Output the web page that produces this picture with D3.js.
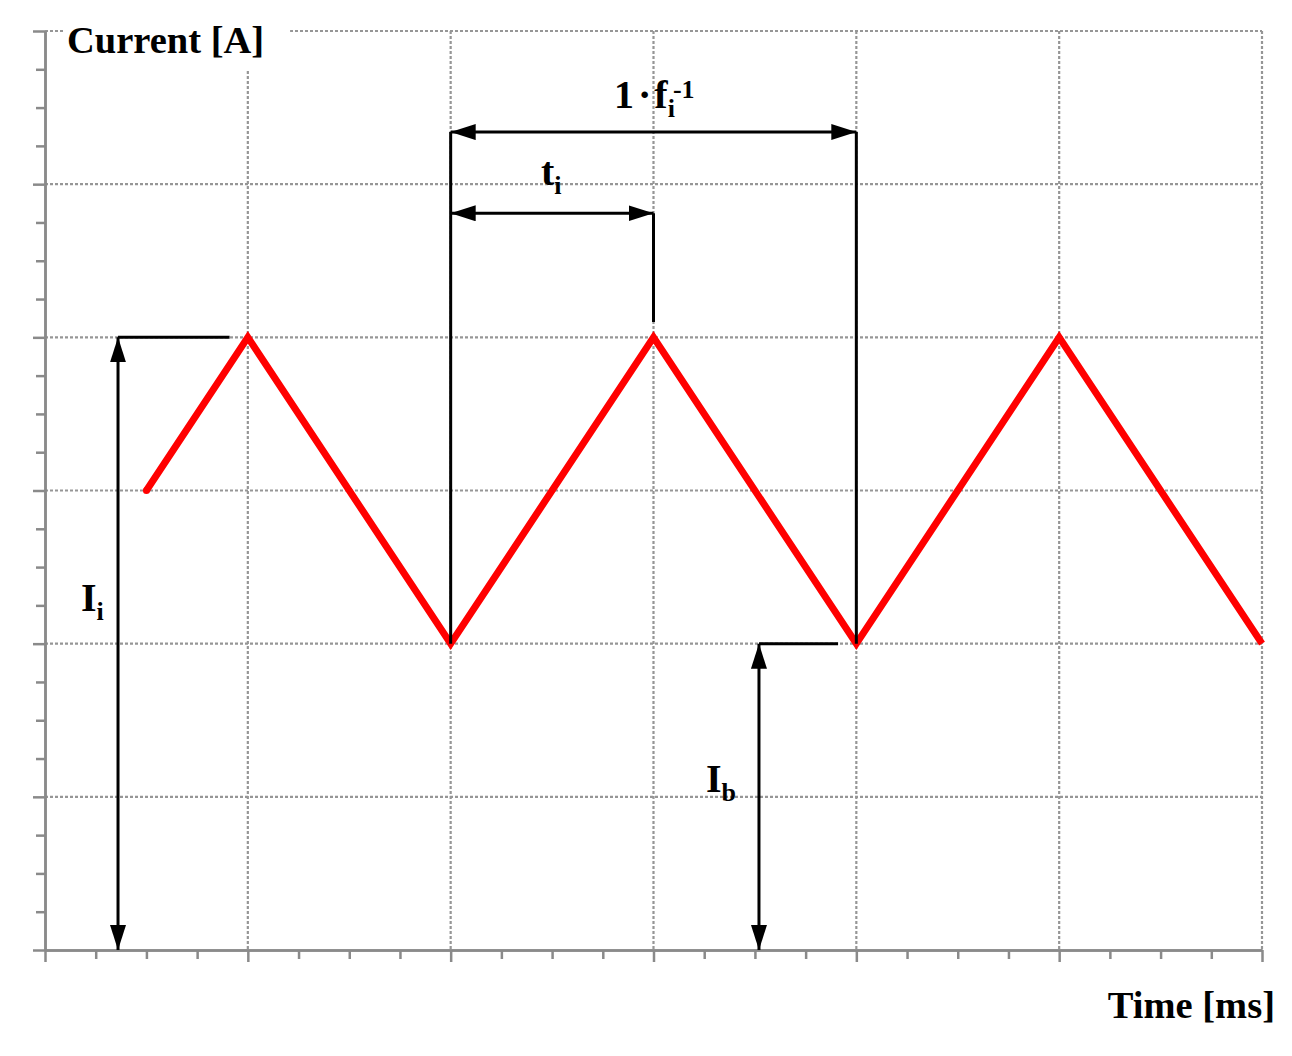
<!DOCTYPE html>
<html><head><meta charset="utf-8">
<script src="https://cdn.jsdelivr.net/npm/d3@7"></script>
<style>
html,body{margin:0;padding:0;background:#fff;}
svg{display:block;}
text{font-family:"Liberation Serif","Times New Roman",serif;font-weight:bold;fill:#000;}
</style></head>
<body>
<script>
// ---- data (grid units) ----
const gridX = [0, 1, 2, 3, 4, 5, 6];
const gridY = [0, 1, 2, 3, 4, 5, 6];
const timeT = [0.5, 1, 2, 3, 4, 5, 6];
const currentI = [3, 4, 2, 4, 2, 4, 2];
const yAxisLabel = "Current [A]";
const xAxisLabel = "Time [ms]";
// annotation dimensions (grid units)
const periodStart = 2, periodPeak = 3, periodEnd = 4;
const periodLevel = 5.34, onTimeLevel = 4.81, onTimeTickLow = 4.1;
const peakCurrent = 4, baseCurrent = 2;
const iiArrowX = 0.36, iiLeaderEnd = 0.91;
const ibArrowX = 3.52, ibLeaderEnd = 3.91;

const W = 1292, H = 1056;
const svg = d3.select("body").append("svg").attr("width", W).attr("height", H);

const x = d3.scaleLinear().domain([0, 6]).range([45, 1262]);
const y = d3.scaleLinear().domain([0, 6]).range([950, 31]);

const minorSteps = d3.range(0, 6.001, 0.25);

// gridlines
const gGrid = svg.append("g").attr("stroke", "#969696").attr("stroke-width", 2.2).attr("stroke-dasharray", "3,2");
gGrid.selectAll("line.v").data(gridX.slice(1)).join("line")
  .attr("x1", d => x(d)).attr("x2", d => x(d)).attr("y1", y(6)).attr("y2", y(0));
gGrid.selectAll("line.h").data(gridY.slice(1)).join("line")
  .attr("y1", d => y(d)).attr("y2", d => y(d)).attr("x1", x(0)).attr("x2", x(6));

// axes
function styleAxis(g){
  g.selectAll("path.domain").attr("stroke", "#8a8a8a").attr("stroke-width", 2.5);
  g.selectAll(".tick line").attr("stroke", "#8a8a8a").attr("stroke-width", 2.5);
  g.selectAll(".tick text").remove();
}
svg.append("g").attr("transform", `translate(${x(0)},0)`)
  .call(d3.axisLeft(y).tickValues(minorSteps.filter(v => v % 1 !== 0)).tickSize(9).tickSizeOuter(0)).call(styleAxis);
svg.append("g").attr("transform", `translate(${x(0)},0)`)
  .call(d3.axisLeft(y).tickValues(gridY).tickSize(12).tickSizeOuter(0)).call(styleAxis);
svg.append("g").attr("transform", `translate(0,${y(0)})`)
  .call(d3.axisBottom(x).tickValues(minorSteps.filter(v => v % 1 !== 0)).tickSize(9).tickSizeOuter(0)).call(styleAxis);
svg.append("g").attr("transform", `translate(0,${y(0)})`)
  .call(d3.axisBottom(x).tickValues(gridX).tickSize(12).tickSizeOuter(0)).call(styleAxis);

// arrow markers
const defs = svg.append("defs");
defs.append("marker").attr("id", "ah").attr("markerUnits", "userSpaceOnUse")
  .attr("markerWidth", 26).attr("markerHeight", 18).attr("refX", 25).attr("refY", 8)
  .attr("orient", "auto-start-reverse")
  .append("path").attr("d", "M0,0 L25,8 L0,16 Z").attr("fill", "#000");

// red waveform
const line = d3.line().x((d, i) => x(timeT[i])).y(d => y(d));
svg.append("path").datum(currentI).attr("d", line)
  .attr("fill", "none").attr("stroke", "#ff0000").attr("stroke-width", 7)
  .attr("stroke-linejoin", "miter").attr("stroke-miterlimit", 10).attr("stroke-linecap", "butt");
svg.append("circle").attr("cx", x(timeT[0])).attr("cy", y(currentI[0])).attr("r", 3.5).attr("fill", "#ff0000");

// annotation lines
const ann = svg.append("g").attr("stroke", "#000").attr("stroke-width", 3).attr("fill", "none");
function seg(x1, y1, x2, y2, m1, m2){
  const l = ann.append("line").attr("x1", x(x1)).attr("y1", y(y1)).attr("x2", x(x2)).attr("y2", y(y2));
  if (m1) l.attr("marker-start", "url(#ah)");
  if (m2) l.attr("marker-end", "url(#ah)");
}
// period
seg(periodStart, baseCurrent, periodStart, periodLevel);
seg(periodEnd, baseCurrent, periodEnd, periodLevel);
seg(periodStart, periodLevel, periodEnd, periodLevel, true, true);
// on-time
seg(periodPeak, onTimeTickLow, periodPeak, onTimeLevel);
seg(periodStart, onTimeLevel, periodPeak, onTimeLevel, true, true);
// I_i
seg(iiArrowX, peakCurrent, iiLeaderEnd, peakCurrent);
seg(iiArrowX, peakCurrent, iiArrowX, 0, true, true);
// I_b
seg(ibArrowX, baseCurrent, ibLeaderEnd, baseCurrent);
seg(ibArrowX, baseCurrent, ibArrowX, 0, true, true);

// axis titles with white background
const yl = svg.append("text").attr("x", 67).attr("y", 53).attr("font-size", 38.5).text(yAxisLabel);
const yb = yl.node().getBBox();
svg.insert("rect", "text").attr("x", yb.x - 4).attr("y", yb.y - 4).attr("width", yb.width + 30).attr("height", yb.height + 14).attr("fill", "#fff");
svg.append("text").attr("x", 1275).attr("y", 1018).attr("font-size", 38.5).attr("text-anchor", "end").text(xAxisLabel);

// symbol labels
function sym(px, py, main, sub){
  const t = svg.append("text").attr("x", px).attr("y", py).attr("font-size", 40);
  t.append("tspan").text(main);
  t.append("tspan").attr("font-size", 26).attr("dy", 9).text(sub);
  return t;
}
sym(81, 611, "I", "i");
sym(706, 792, "I", "b");
sym(541, 185, "t", "i");
// 1 · f_i^-1
const ft = svg.append("text").attr("x", 614).attr("y", 108).attr("font-size", 40);
ft.append("tspan").text("1");
ft.append("tspan").attr("dx", 4).text("\u00B7");
ft.append("tspan").attr("dx", 3).text("f");
ft.append("tspan").attr("font-size", 26).attr("dy", 9).text("i");
ft.append("tspan").attr("font-size", 26).attr("dy", -19).attr("dx", -2).text("-1");
</script>
</body></html>
